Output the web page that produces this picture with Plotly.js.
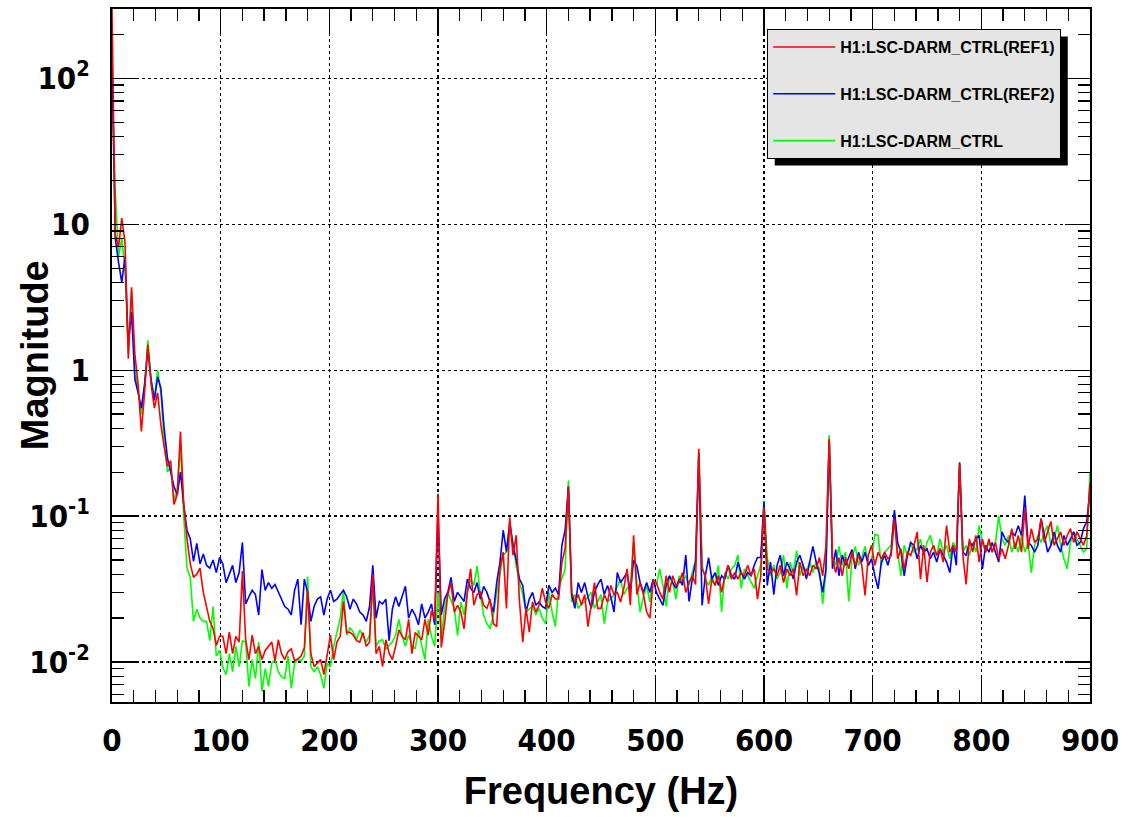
<!DOCTYPE html>
<html>
<head>
<meta charset="utf-8">
<script src="https://cdn.plot.ly/plotly-3.0.1.min.js"></script>
<style>
  html, body { margin: 0; padding: 0; background: #ffffff; }
  #chart { width: 1128px; height: 817px; }
</style>
</head>
<body>
<div id="chart"></div>
<script>
// Spectrum bin spacing (Hz); each array below holds one value per bin from 0 to 900 Hz.
const binStepHz = 3;

const seriesNames = ["H1:LSC-DARM_CTRL(REF1)", "H1:LSC-DARM_CTRL(REF2)", "H1:LSC-DARM_CTRL"];
const xTitle = "Frequency (Hz)";
const yTitle = "Magnitude";

// H1:LSC-DARM_CTRL(REF1) — red
const ref1 = [
  300, 8.5, 7, 11, 7.5, 1.2, 3.7, 1.3, 0.8, 0.38,
  0.7, 1.5, 0.8, 0.55, 0.7, 0.42, 0.3, 0.22, 0.24, 0.12,
  0.14, 0.38, 0.12, 0.07, 0.047, 0.038, 0.04, 0.044, 0.03, 0.024,
  0.019, 0.017, 0.013, 0.015, 0.015, 0.0114, 0.016, 0.0114, 0.015, 0.0137,
  0.042, 0.0142, 0.0104, 0.0153, 0.0114, 0.0128, 0.0104, 0.012, 0.0128, 0.0137,
  0.0102, 0.0142, 0.0114, 0.0104, 0.0118, 0.0123, 0.0102, 0.0105, 0.011, 0.0125,
  0.031, 0.0114, 0.0093, 0.0098, 0.0104, 0.0082, 0.0114, 0.0153, 0.0104, 0.0137,
  0.015, 0.026, 0.0159, 0.016, 0.0153, 0.014, 0.0137, 0.0159, 0.0128, 0.0137,
  0.040, 0.0114, 0.0128, 0.0093, 0.0142, 0.0115, 0.0104, 0.0128, 0.0166, 0.015,
  0.0142, 0.0196, 0.0114, 0.0159, 0.015, 0.0142, 0.0196, 0.0153, 0.0224, 0.0196,
  0.142, 0.0126, 0.0183, 0.029, 0.035, 0.022, 0.0245, 0.022, 0.0169, 0.03,
  0.0435, 0.0245, 0.029, 0.03, 0.0245, 0.0233, 0.027, 0.0183, 0.0175, 0.0435,
  0.0566, 0.0233, 0.098, 0.054, 0.074, 0.0258, 0.0137, 0.0233, 0.016, 0.0258,
  0.022, 0.0245, 0.032, 0.0258, 0.0233, 0.029, 0.027, 0.027, 0.048, 0.06,
  0.16, 0.03, 0.0258, 0.029, 0.0245, 0.029, 0.0175, 0.0258, 0.035, 0.0233,
  0.0233, 0.029, 0.0258, 0.0335, 0.029, 0.03, 0.0258, 0.032, 0.0435, 0.0245,
  0.074, 0.029, 0.035, 0.029, 0.022, 0.02, 0.036, 0.035, 0.03, 0.027,
  0.039, 0.03, 0.039, 0.0335, 0.035, 0.041, 0.03, 0.035, 0.039, 0.034,
  0.289, 0.0435, 0.039, 0.025, 0.037, 0.0335, 0.039, 0.03, 0.039, 0.046,
  0.037, 0.041, 0.037, 0.041, 0.039, 0.046, 0.039, 0.0435, 0.027, 0.039,
  0.115, 0.0435, 0.041, 0.0435, 0.039, 0.046, 0.035, 0.0435, 0.039, 0.0435,
  0.0286, 0.0484, 0.039, 0.0435, 0.039, 0.046, 0.0435, 0.052, 0.039, 0.062,
  0.34, 0.052, 0.041, 0.052, 0.039, 0.052, 0.0435, 0.0566, 0.046, 0.054,
  0.046, 0.0286, 0.054, 0.063, 0.046, 0.0566, 0.051, 0.0566, 0.051, 0.0537,
  0.096, 0.051, 0.0597, 0.0435, 0.0566, 0.0537, 0.063, 0.078, 0.037, 0.063,
  0.0353, 0.0566, 0.063, 0.0537, 0.0597, 0.0484, 0.086, 0.0566, 0.063, 0.0566,
  0.23, 0.0537, 0.034, 0.0697, 0.0566, 0.0737, 0.0484, 0.0697, 0.0566, 0.0697,
  0.0566, 0.066, 0.051, 0.0597, 0.051, 0.063, 0.082, 0.0597, 0.0737, 0.0566,
  0.112, 0.0597, 0.082, 0.066, 0.0697, 0.096, 0.066, 0.078, 0.092, 0.063,
  0.0697, 0.078, 0.063, 0.0737, 0.082, 0.066, 0.078, 0.0697, 0.063, 0.0737,
  0.17
];

// H1:LSC-DARM_CTRL(REF2) — blue
const ref2 = [
  140, 8, 5.5, 4, 6, 1.5, 2.5, 0.87, 0.7, 0.55,
  0.8, 1.4, 0.85, 0.62, 0.9, 0.75, 0.4, 0.25, 0.2, 0.16,
  0.14, 0.2, 0.12, 0.08, 0.07, 0.049, 0.065, 0.047, 0.055, 0.046,
  0.044, 0.05, 0.041, 0.052, 0.047, 0.035, 0.04, 0.046, 0.035, 0.041,
  0.066, 0.025, 0.028, 0.031, 0.029, 0.021, 0.043, 0.031, 0.035, 0.032,
  0.034, 0.03, 0.027, 0.024, 0.023, 0.021, 0.031, 0.037, 0.018, 0.037,
  0.03, 0.019, 0.024, 0.027, 0.028, 0.021, 0.027, 0.031, 0.026, 0.027,
  0.029, 0.031, 0.028, 0.023, 0.027, 0.025, 0.022, 0.021, 0.019, 0.024,
  0.046, 0.02, 0.026, 0.025, 0.027, 0.014, 0.023, 0.028, 0.024, 0.028,
  0.033, 0.02, 0.023, 0.021, 0.018, 0.025, 0.02, 0.022, 0.025, 0.018,
  0.11, 0.021, 0.027, 0.03, 0.038, 0.026, 0.03, 0.028, 0.026, 0.037,
  0.032, 0.03, 0.035, 0.027, 0.033, 0.03, 0.026, 0.022, 0.035, 0.048,
  0.08, 0.057, 0.09, 0.063, 0.05, 0.037, 0.0335, 0.022, 0.027, 0.03,
  0.0245, 0.0258, 0.024, 0.0233, 0.0335, 0.03, 0.032, 0.029, 0.063, 0.08,
  0.16, 0.029, 0.0233, 0.035, 0.03, 0.035, 0.028, 0.0233, 0.03, 0.034,
  0.037, 0.029, 0.0335, 0.028, 0.022, 0.041, 0.035, 0.038, 0.041, 0.03,
  0.05, 0.0455, 0.035, 0.03, 0.035, 0.03, 0.037, 0.03, 0.027, 0.0244,
  0.0335, 0.039, 0.035, 0.032, 0.037, 0.0335, 0.054, 0.026, 0.037, 0.0484,
  0.27, 0.0244, 0.039, 0.052, 0.037, 0.041, 0.0335, 0.039, 0.037, 0.046,
  0.039, 0.037, 0.0484, 0.041, 0.037, 0.041, 0.039, 0.046, 0.052, 0.052,
  0.125, 0.0335, 0.0484, 0.029, 0.046, 0.054, 0.039, 0.0484, 0.0435, 0.037,
  0.0484, 0.054, 0.046, 0.037, 0.0484, 0.062, 0.0484, 0.04, 0.03, 0.0435,
  0.33, 0.0435, 0.059, 0.039, 0.054, 0.046, 0.052, 0.059, 0.0435, 0.0566,
  0.0484, 0.0566, 0.046, 0.051, 0.039, 0.0318, 0.0484, 0.0537, 0.046, 0.0566,
  0.11, 0.066, 0.0566, 0.039, 0.0537, 0.066, 0.063, 0.051, 0.063, 0.0566,
  0.0597, 0.051, 0.0566, 0.0484, 0.0597, 0.0537, 0.0484, 0.041, 0.063, 0.046,
  0.234, 0.0566, 0.0537, 0.066, 0.063, 0.0697, 0.0737, 0.0435, 0.063, 0.0566,
  0.066, 0.0566, 0.0484, 0.078, 0.0697, 0.066, 0.078, 0.0737, 0.086, 0.0737,
  0.138, 0.066, 0.063, 0.0566, 0.063, 0.096, 0.0737, 0.0566, 0.063, 0.078,
  0.063, 0.0566, 0.0737, 0.063, 0.0697, 0.078, 0.063, 0.066, 0.082, 0.092,
  0.15
];

// H1:LSC-DARM_CTRL — green
const ctrl = [
  80, 17, 6, 8, 5, 1.3, 3.5, 1.0, 0.75, 0.5,
  0.8, 1.6, 0.85, 0.65, 1.0, 0.7, 0.32, 0.2, 0.22, 0.13,
  0.15, 0.3, 0.1, 0.044, 0.038, 0.019, 0.023, 0.02, 0.019, 0.019,
  0.014, 0.024, 0.011, 0.012, 0.0092, 0.0082, 0.0114, 0.0086, 0.0128, 0.0093,
  0.014, 0.0137, 0.0068, 0.0104, 0.0077, 0.0137, 0.0063, 0.009, 0.0068, 0.0098,
  0.0104, 0.0086, 0.0079, 0.0077, 0.011, 0.0066, 0.0098, 0.0104, 0.0102, 0.011,
  0.0385, 0.0093, 0.0086, 0.0093, 0.0082, 0.0066, 0.0098, 0.0093, 0.0128, 0.0159,
  0.02, 0.031, 0.0153, 0.0172, 0.016, 0.0142, 0.0166, 0.015, 0.0137, 0.0153,
  0.0323, 0.0128, 0.014, 0.0142, 0.0123, 0.013, 0.0137, 0.0153, 0.0196, 0.015,
  0.0128, 0.0153, 0.013, 0.0123, 0.0166, 0.013, 0.0104, 0.0196, 0.015, 0.0128,
  0.03, 0.0145, 0.0233, 0.03, 0.026, 0.0233, 0.0152, 0.0258, 0.021, 0.03,
  0.037, 0.0335, 0.0455, 0.029, 0.021, 0.0183, 0.0169, 0.021, 0.03, 0.041,
  0.054, 0.0566, 0.09, 0.066, 0.045, 0.035, 0.029, 0.022, 0.023, 0.0245,
  0.021, 0.0233, 0.02, 0.0183, 0.03, 0.022, 0.0175, 0.032, 0.038, 0.0435,
  0.175, 0.0258, 0.029, 0.0233, 0.025, 0.0258, 0.028, 0.03, 0.0233, 0.026,
  0.029, 0.0183, 0.0258, 0.027, 0.029, 0.033, 0.037, 0.029, 0.032, 0.0335,
  0.066, 0.035, 0.022, 0.028, 0.0335, 0.0258, 0.037, 0.0335, 0.0435, 0.0335,
  0.024, 0.039, 0.035, 0.027, 0.039, 0.035, 0.039, 0.0335, 0.041, 0.05,
  0.27, 0.046, 0.037, 0.0335, 0.039, 0.0335, 0.046, 0.022, 0.041, 0.037,
  0.0435, 0.046, 0.054, 0.032, 0.0435, 0.039, 0.035, 0.032, 0.039, 0.046,
  0.128, 0.052, 0.039, 0.046, 0.037, 0.041, 0.054, 0.032, 0.0484, 0.041,
  0.058, 0.039, 0.046, 0.041, 0.0484, 0.041, 0.0484, 0.0435, 0.025, 0.041,
  0.36, 0.052, 0.046, 0.062, 0.046, 0.0566, 0.026, 0.052, 0.062, 0.046,
  0.052, 0.062, 0.046, 0.05, 0.075, 0.0737, 0.046, 0.0566, 0.0597, 0.063,
  0.105, 0.0566, 0.039, 0.063, 0.0537, 0.066, 0.0566, 0.0597, 0.0697, 0.0537,
  0.066, 0.0737, 0.0597, 0.0537, 0.0697, 0.0566, 0.063, 0.051, 0.066, 0.0597,
  0.225, 0.0566, 0.063, 0.0537, 0.066, 0.0566, 0.086, 0.066, 0.0566, 0.066,
  0.0566, 0.066, 0.1, 0.0697, 0.063, 0.0737, 0.0566, 0.066, 0.0566, 0.0737,
  0.0566, 0.066, 0.041, 0.063, 0.0737, 0.066, 0.078, 0.086, 0.063, 0.0697,
  0.086, 0.063, 0.051, 0.0435, 0.066, 0.078, 0.0697, 0.063, 0.0566, 0.06,
  0.2
];

// Axis tick labels
const xTickVals = [0, 100, 200, 300, 400, 500, 600, 700, 800, 900];
const yTickVals = [0.01, 0.1, 1, 10, 100];
const yTickText = ["10<sup>-2</sup>", "10<sup>-1</sup>", "1", "10", "10<sup>2</sup>"];

const freq = ref1.map((_, i) => i * binStepHz);

// minor log ticks (2..9 per decade)
const yMinor = [];
[0.001, 0.01, 0.1, 1, 10, 100].forEach(d => { for (let k = 2; k <= 9; k++) yMinor.push(d * k); });

const tickFont = { family: "Liberation Sans Narrow, DejaVu Sans Condensed, Liberation Sans, Arial, sans-serif", size: 31, color: "#000", weight: 700 };
const titleFont = { family: "Liberation Sans, Arial, Helvetica, sans-serif", size: 38, color: "#000", weight: 700 };

const mk = (y, name, color, rank) => ({
  type: "scatter", mode: "lines", x: freq, y: y, name: name,
  line: { color: color, width: 1.6 }, legendrank: rank, legendgroup: name
});

const traces = [
  mk(ctrl, seriesNames[2], "#00ff00", 3),
  mk(ref2, seriesNames[1], "#0000ff", 2),
  mk(ref1, seriesNames[0], "#ff0000", 1)
];

const layout = {
  width: 1128, height: 817,
  paper_bgcolor: "#ffffff", plot_bgcolor: "#ffffff",
  margin: { l: 112, r: 38, t: 9, b: 115 },
  showlegend: true,
  legend: {
    x: 0.67, y: 0.971, xanchor: "left", yanchor: "top",
    bgcolor: "#e5e5e5", bordercolor: "#000", borderwidth: 1,
    font: { family: "Liberation Sans, Arial, sans-serif", size: 16, color: "#000", weight: 700 },
    itemwidth: 62, tracegroupgap: 23, traceorder: "grouped"
  },
  xaxis: {
    range: [0, 900], tickmode: "array", tickvals: xTickVals,
    ticks: "inside", ticklen: 25, tickwidth: 1.3, tickcolor: "#000",
    showline: true, linecolor: "#000", linewidth: 2, mirror: "allticks",
    showgrid: true, gridcolor: "#000", gridwidth: 1.2, griddash: "dot",
    zeroline: false, tickfont: tickFont, ticklabelstandoff: 10,
    minor: { dtick: 20, ticks: "inside", ticklen: 12, tickwidth: 1.3, tickcolor: "#000", showgrid: false },
    title: { text: xTitle, font: titleFont, standoff: 20 }
  },
  yaxis: {
    type: "log", range: [-2.274, 2.475], tickmode: "array", tickvals: yTickVals, ticktext: yTickText,
    ticks: "inside", ticklen: 25, tickwidth: 1.3, tickcolor: "#000",
    showline: true, linecolor: "#000", linewidth: 2, mirror: "allticks",
    showgrid: true, gridcolor: "#000", gridwidth: 1.2, griddash: "dot",
    zeroline: false, tickfont: tickFont, ticklabelstandoff: 14,
    minor: { tickmode: "array", tickvals: yMinor, ticks: "inside", ticklen: 12, tickwidth: 1.3, tickcolor: "#000", showgrid: false },
    title: { text: "" }
  },
  annotations: [{
    text: yTitle, textangle: -90, font: titleFont, showarrow: false,
    xref: "paper", yref: "paper", x: -0.079, y: 0.5, xanchor: "center", yanchor: "middle"
  }]
};

Plotly.newPlot("chart", traces, layout, { displayModeBar: false, staticPlot: true }).then(gd => {
  // drop shadow behind the legend box (ROOT style)
  const bg = gd.querySelector(".legend .bg");
  if (!bg) return;
  const r = bg.getBoundingClientRect();
  const c = gd.getBoundingClientRect();
  const s = gd._fullLayout._size;
  const off = 7;
  const toX = px => (px - c.left - s.l) / s.w;
  const toY = py => 1 - (py - c.top - s.t) / s.h;
  Plotly.relayout(gd, {
    shapes: [{
      type: "rect", xref: "paper", yref: "paper", layer: "above",
      x0: toX(r.left + off), x1: toX(r.right + off),
      y0: toY(r.bottom + off), y1: toY(r.top + off),
      fillcolor: "#000", line: { width: 0 }
    }]
  });
});
</script>
</body>
</html>
